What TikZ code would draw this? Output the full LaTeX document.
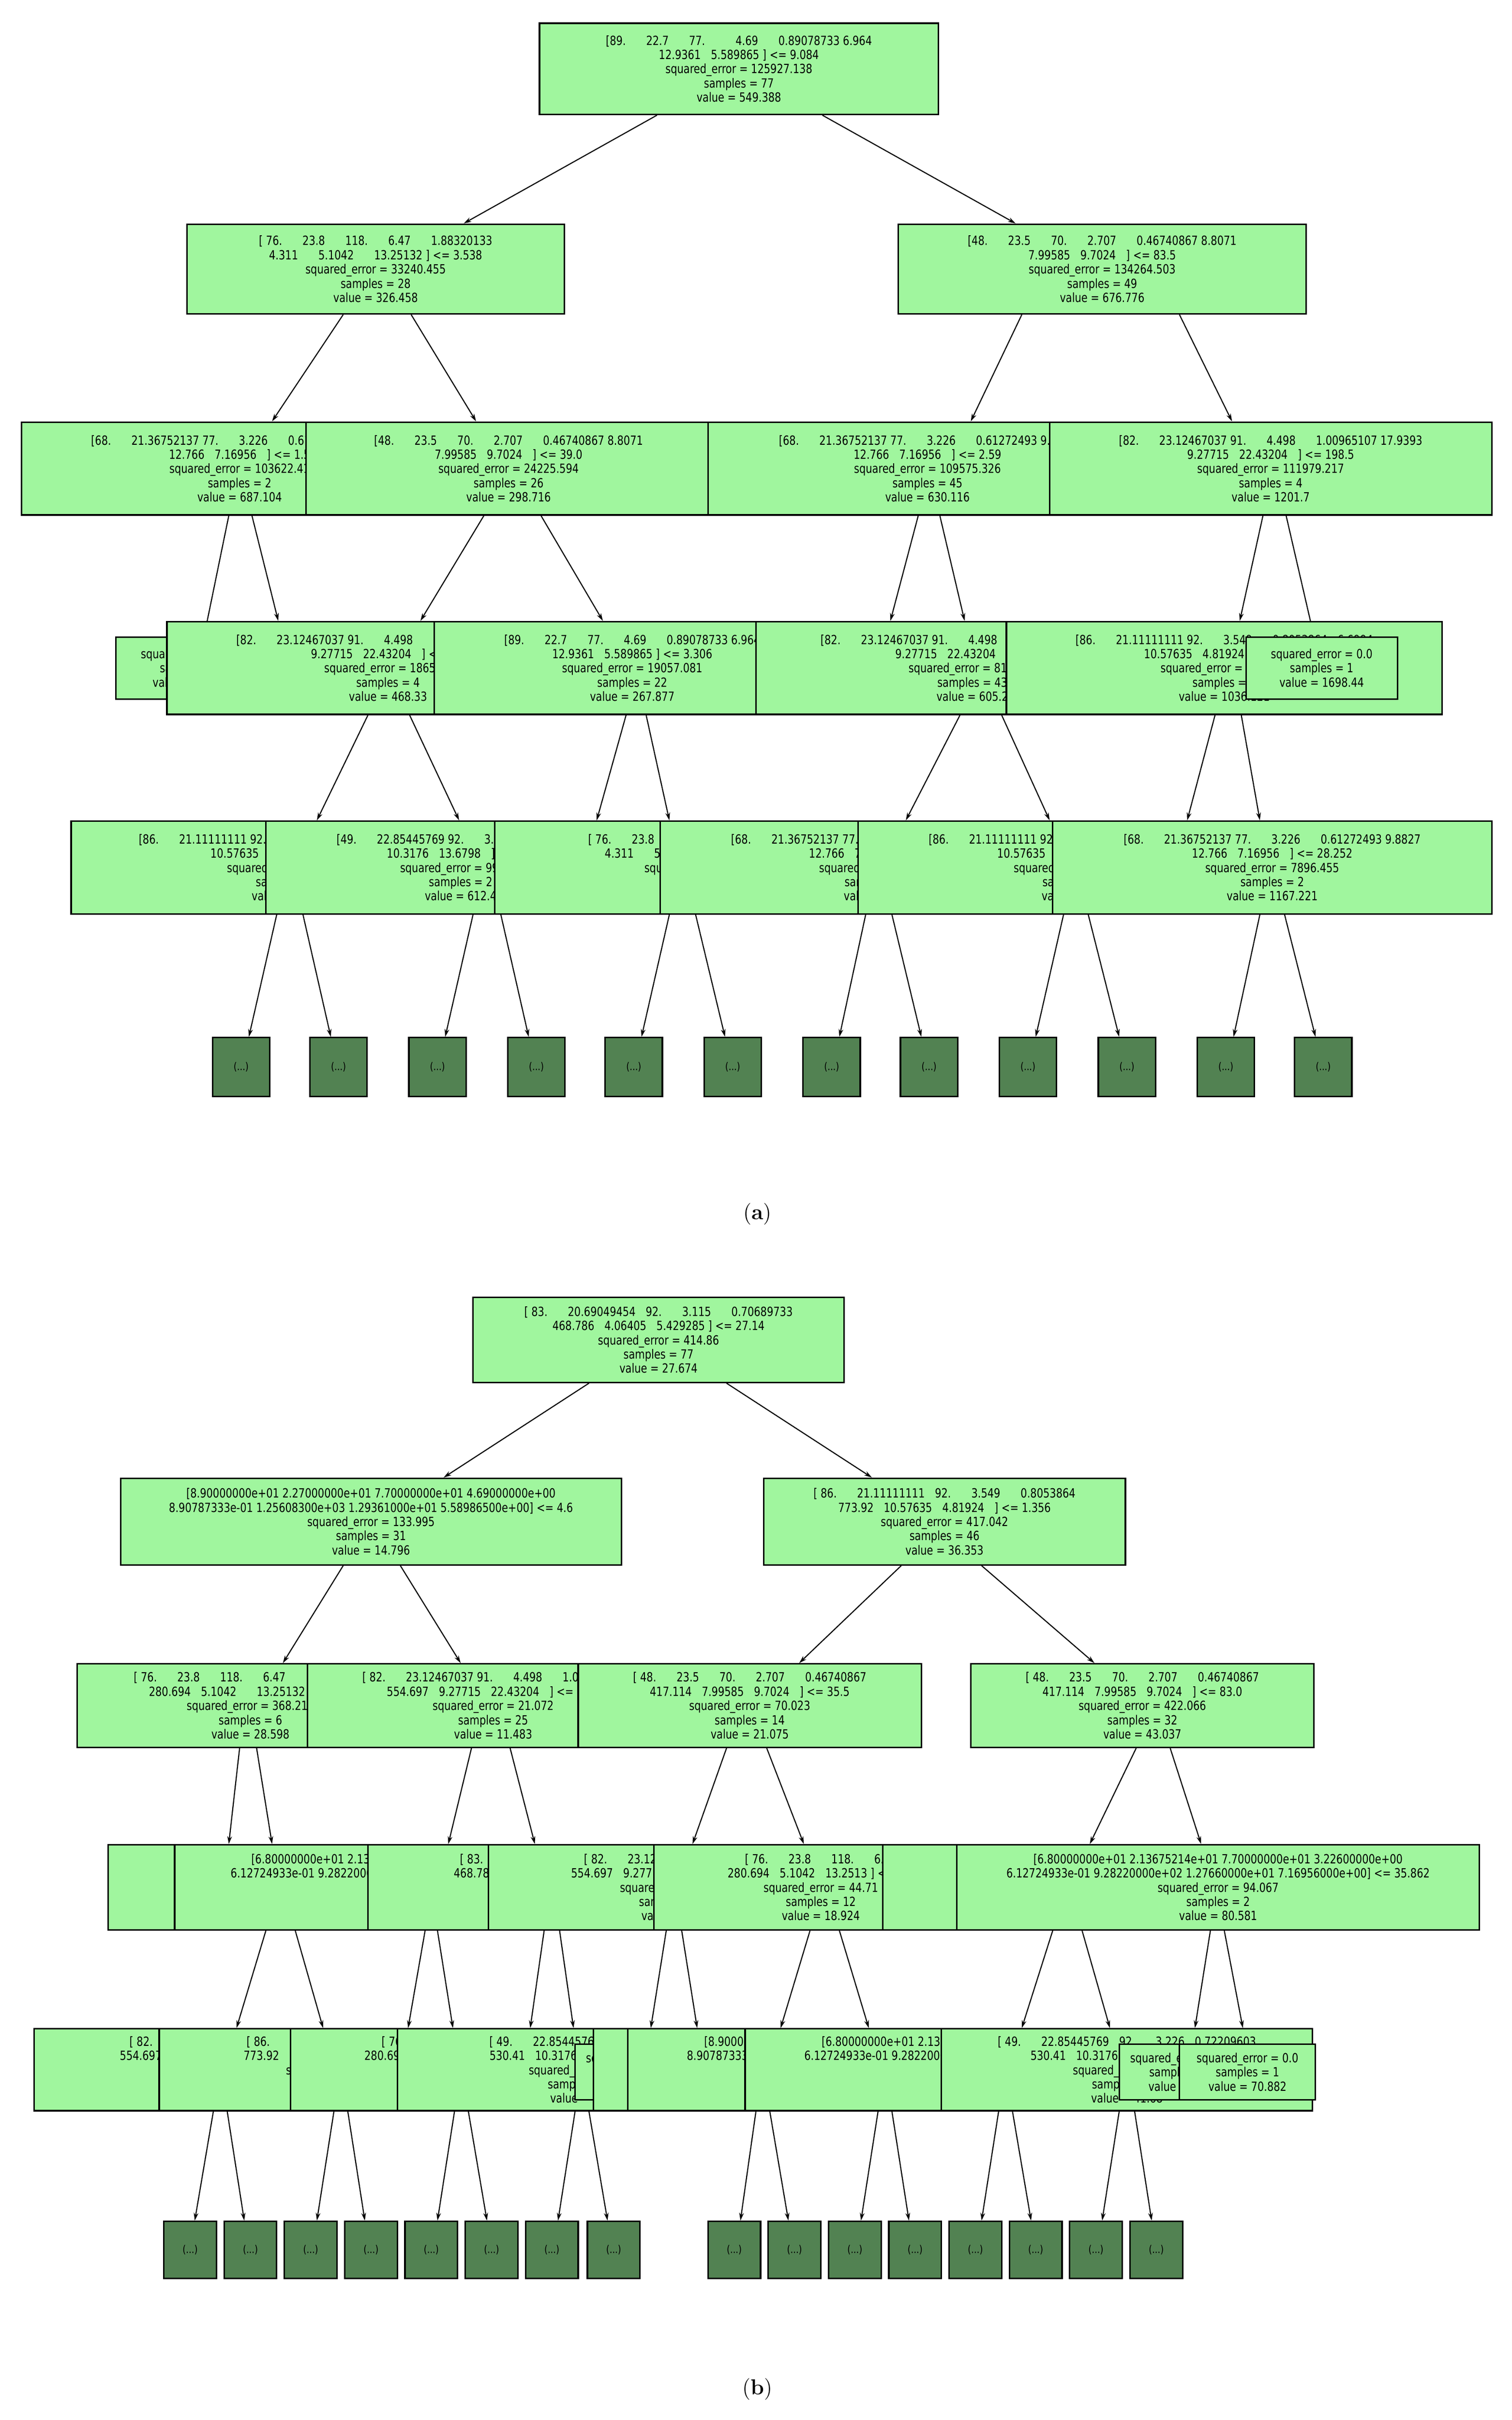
\documentclass[tikz,border=0pt]{standalone}
\usepackage{fontspec}
\newfontfamily\treefont{DejaVu Sans}[FakeStretch=0.8]
\usetikzlibrary{arrows.meta}
\pgfdeclarelayer{background}
\pgfsetlayers{background,main}
\definecolor{splitgreen}{RGB}{160,246,158}
\definecolor{leafgreen}{RGB}{82,130,82}
\tikzstyle{split} = [rectangle, draw=black, line width=1pt, fill=splitgreen, inner sep=0pt, align=center, font=\treefont\fontsize{8.2}{9.2}\selectfont]
\tikzstyle{cut} = [rectangle, draw=black, line width=1pt, fill=leafgreen, inner sep=0pt, minimum width=37pt, minimum height=38pt, font=\treefont\fontsize{7}{8}\selectfont]
\tikzstyle{edge} = [line width=0.7pt, -{Stealth[length=5pt,width=3pt]}]
\newcommand{\gp}{\hspace{0.8em}}
\newcommand{\tbox}[6]{\node[split, minimum width={2*(#3-#2)*1pt}, minimum height={(#5-#4)*1pt}] (#1) at ({#3},{(#4+#5)/2}) {#6};}
\newcommand{\edge}[4]{\draw[edge] (#1.south -| #2,0) -- (#3.north -| #4,0);}

\begin{document}
\begin{tikzpicture}[x=1pt,y=-1pt]
\useasboundingbox (0,0) rectangle (978,1565);

% (a) nodes
\tbox{aR}{349}{478}{15}{74}{[89.\gp\gp 22.7\gp\gp 77.\gp\gp\gp 4.69\gp\gp 0.89078733 6.964\\12.9361\gp 5.589865 ] <= 9.084\\squared\_error = 125927.138\\samples = 77\\value = 549.388}
\tbox{aL}{121}{243}{145}{203}{[ 76.\gp\gp 23.8\gp\gp 118.\gp\gp 6.47\gp\gp 1.88320133\\4.311\gp\gp 5.1042\gp\gp 13.25132 ] <= 3.538\\squared\_error = 33240.455\\samples = 28\\value = 326.458}
\tbox{aRr}{581}{713}{145}{203}{[48.\gp\gp 23.5\gp\gp 70.\gp\gp 2.707\gp\gp 0.46740867 8.8071\\7.99585\gp 9.7024\gp ] <= 83.5\\squared\_error = 134264.503\\samples = 49\\value = 676.776}
\tbox{a3A}{14}{155}{273}{333}{[68.\gp\gp 21.36752137 77.\gp\gp 3.226\gp\gp 0.61272493 9.8827\\12.766\gp 7.16956\gp ] <= 1.5\\squared\_error = 103622.41\\samples = 2\\value = 687.104}
\tbox{a3B}{198}{329}{273}{333}{[48.\gp\gp 23.5\gp\gp 70.\gp\gp 2.707\gp\gp 0.46740867 8.8071\\7.99585\gp 9.7024\gp ] <= 39.0\\squared\_error = 24225.594\\samples = 26\\value = 298.716}
\tbox{a3C}{458}{600}{273}{333}{[68.\gp\gp 21.36752137 77.\gp\gp 3.226\gp\gp 0.61272493 9.8827\\12.766\gp 7.16956\gp ] <= 2.59\\squared\_error = 109575.326\\samples = 45\\value = 630.116}
\tbox{a3D}{679}{822}{273}{333}{[82.\gp\gp 23.12467037 91.\gp\gp 4.498\gp\gp 1.00965107 17.9393\\9.27715\gp 22.43204\gp ] <= 198.5\\squared\_error = 111979.217\\samples = 4\\value = 1201.7}
\tbox{a4s}{75}{124}{412}{452}{squared\_error = 0.0\\samples = 1\\value = 1203.9}
\tbox{a4b}{108}{251}{402}{462}{[82.\gp\gp 23.12467037 91.\gp\gp 4.498\gp\gp 1.00965107 17.9393\\9.27715\gp 22.43204\gp ] <= 6.5\\squared\_error = 18650.2\\samples = 4\\value = 468.33}
\tbox{a4c}{281}{409}{402}{462}{[89.\gp\gp 22.7\gp\gp 77.\gp\gp 4.69\gp\gp 0.89078733 6.964\\12.9361\gp 5.589865 ] <= 3.306\\squared\_error = 19057.081\\samples = 22\\value = 267.877}
\tbox{a4d}{489}{629}{402}{462}{[82.\gp\gp 23.12467037 91.\gp\gp 4.498\gp\gp 1.00965107 17.9393\\9.27715\gp 22.43204\gp ] <= 8.5\\squared\_error = 81234.5\\samples = 43\\value = 605.2}
\tbox{a4e}{651}{792}{402}{462}{[86.\gp\gp 21.11111111 92.\gp\gp 3.549\gp\gp 0.8053864\gp 6.6994\\10.57635\gp 4.81924\gp ] <= 45.0\\squared\_error = 41250.3\\samples = 3\\value = 1036.121}
\tbox{a4f}{806}{855}{412}{452}{squared\_error = 0.0\\samples = 1\\value = 1698.44}
\tbox{a5a}{46}{186}{531}{591}{[86.\gp\gp 21.11111111 92.\gp\gp 3.549\gp\gp 0.8053864\gp 6.6994\\10.57635\gp 4.81924\gp ] <= 2.2\\squared\_error = 5120.8\\samples = 2\\value = 540.3}
\tbox{a5b}{172}{298}{531}{591}{[49.\gp\gp 22.85445769 92.\gp\gp 3.116\gp 0.72209603\\10.3176\gp 13.6798\gp ] <= 5.1\\squared\_error = 9932.4\\samples = 2\\value = 612.4}
\tbox{a5c}{320}{456}{531}{591}{[ 76.\gp\gp 23.8\gp\gp 118.\gp\gp 6.47\gp\gp 1.88320133\\4.311\gp\gp 5.1042\gp\gp 13.25132 ] <= 1.9\\squared\_error = 8810.6\\samples = 12\\value = 250.4}
\tbox{a5d}{427}{569}{531}{591}{[68.\gp\gp 21.36752137 77.\gp\gp 3.226\gp\gp 0.61272493 9.8827\\12.766\gp 7.16956\gp ] <= 4.4\\squared\_error = 2210.9\\samples = 10\\value = 288.1}
\tbox{a5e}{555}{697}{531}{591}{[86.\gp\gp 21.11111111 92.\gp\gp 3.549\gp\gp 0.8053864\gp 6.6994\\10.57635\gp 4.81924\gp ] <= 12.3\\squared\_error = 70311.2\\samples = 39\\value = 590.6}
\tbox{a5f}{681}{823}{531}{591}{[68.\gp\gp 21.36752137 77.\gp\gp 3.226\gp\gp 0.61272493 9.8827\\12.766\gp 7.16956\gp ] <= 28.252\\squared\_error = 7896.455\\samples = 2\\value = 1167.221}
\foreach \c [count=\i] in {156,219,283,347,410,474,538,601,665,729,793,856}
  \node[cut] (al\i) at (\c,690) {(...)};
\node (capa) at (490,785) {\fontsize{14}{16}\selectfont(\textbf{a})};

% (a) connectors
\begin{pgfonlayer}{background}
\edge{aR}{425}{aL}{300} \edge{aR}{532}{aRr}{657}
\edge{aL}{222}{a3A}{176} \edge{aL}{266}{a3B}{308}
\edge{aRr}{661}{a3C}{628} \edge{aRr}{763}{a3D}{797}
\edge{a3A}{148}{a4s}{132} \edge{a3A}{163}{a4b}{180}
\edge{a3B}{313}{a4b}{272} \edge{a3B}{350}{a4c}{390}
\edge{a3C}{594}{a4d}{576} \edge{a3C}{608}{a4d}{624}
\edge{a3D}{817}{a4e}{802} \edge{a3D}{832}{a4f}{850}
\edge{a4b}{238}{a5b}{205} \edge{a4b}{265}{a5b}{297}
\edge{a4c}{405}{a5c}{386} \edge{a4c}{418}{a5d}{433}
\edge{a4d}{621}{a5e}{586} \edge{a4d}{648}{a5e}{679}
\edge{a4e}{786}{a5f}{768} \edge{a4e}{803}{a5f}{815}
\foreach \s/\x/\t/\y in {a5a/179/al1/161, a5b/196/al2/214, a5b/306/al3/288, a5c/324/al4/342,
  a5d/433/al5/415, a5d/450/al6/469, a5e/560/al7/543, a5e/577/al8/596,
  a5f/688/al9/670, a5f/704/al10/724, a5f/815/al11/798, a5f/831/al12/851}
  \draw[edge] (\s.south -| \x,0) -- (\t.north -| \y,0);
\end{pgfonlayer}

% (b) nodes
\tbox{bR}{306}{426}{839}{894}{[ 83.\gp\gp 20.69049454\gp 92.\gp\gp 3.115\gp\gp 0.70689733\\468.786\gp 4.06405\gp 5.429285 ] <= 27.14\\squared\_error = 414.86\\samples = 77\\value = 27.674}
\tbox{bL}{78}{240}{956}{1012}{[8.90000000e+01 2.27000000e+01 7.70000000e+01 4.69000000e+00\\8.90787333e-01 1.25608300e+03 1.29361000e+01 5.58986500e+00] <= 4.6\\squared\_error = 133.995\\samples = 31\\value = 14.796}
\tbox{bRr}{494}{611}{956}{1012}{[ 86.\gp\gp 21.11111111\gp 92.\gp\gp 3.549\gp\gp 0.8053864\\773.92\gp 10.57635\gp 4.81924\gp ] <= 1.356\\squared\_error = 417.042\\samples = 46\\value = 36.353}
\tbox{b3a}{50}{162}{1076}{1130}{[ 76.\gp\gp 23.8\gp\gp 118.\gp\gp 6.47\gp\gp 1.88320133\\280.694\gp 5.1042\gp\gp 13.25132 ] <= 2.1\\squared\_error = 368.214\\samples = 6\\value = 28.598}
\tbox{b3b}{199}{319}{1076}{1130}{[ 82.\gp\gp 23.12467037 91.\gp\gp 4.498\gp\gp 1.00965107\\554.697\gp 9.27715\gp 22.43204\gp ] <= 20.5\\squared\_error = 21.072\\samples = 25\\value = 11.483}
\tbox{b3c}{374}{485}{1076}{1130}{[ 48.\gp\gp 23.5\gp\gp 70.\gp\gp 2.707\gp\gp 0.46740867\\417.114\gp 7.99585\gp 9.7024\gp ] <= 35.5\\squared\_error = 70.023\\samples = 14\\value = 21.075}
\tbox{b3d}{628}{739}{1076}{1130}{[ 48.\gp\gp 23.5\gp\gp 70.\gp\gp 2.707\gp\gp 0.46740867\\417.114\gp 7.99585\gp 9.7024\gp ] <= 83.0\\squared\_error = 422.066\\samples = 32\\value = 43.037}
\tbox{b4a}{70}{178}{1193}{1248}{[ 76.\gp\gp 23.8\gp\gp 118.\gp\gp 6.47\\280.694\gp 5.1042\gp 13.2513 ] <= 1.2\\squared\_error = 310.9\\samples = 2\\value = 44.1}
\tbox{b4b}{113}{282}{1193}{1248}{[6.80000000e+01 2.13675214e+01 7.70000000e+01 3.22600000e+00\\6.12724933e-01 9.28220000e+02 1.27660000e+01 7.16956000e+00] <= 30.1\\squared\_error = 52.3\\samples = 4\\value = 20.8}
\tbox{b4c}{238}{358}{1193}{1248}{[ 83.\gp\gp 20.69049454\gp 92.\gp\gp 3.115\\468.786\gp 4.06405\gp 5.429285 ] <= 6.2\\squared\_error = 12.4\\samples = 9\\value = 8.7}
\tbox{b4d}{316}{436}{1193}{1248}{[ 82.\gp\gp 23.12467037 91.\gp\gp 4.498\\554.697\gp 9.27715\gp 22.43204 ] <= 11.5\\squared\_error = 15.8\\samples = 16\\value = 13.0}
\tbox{b4e}{423}{531}{1193}{1248}{[ 76.\gp\gp 23.8\gp\gp 118.\gp\gp 6.47\\280.694\gp 5.1042\gp 13.2513 ] <= 2.6\\squared\_error = 44.71\\samples = 12\\value = 18.924}
\tbox{b4f}{571}{691}{1193}{1248}{[ 83.\gp\gp 20.69049454\gp 92.\gp\gp 3.115\\468.786\gp 4.06405\gp 5.429285 ] <= 60.5\\squared\_error = 301.6\\samples = 30\\value = 40.5}
\tbox{b4g}{619}{788}{1193}{1248}{[6.80000000e+01 2.13675214e+01 7.70000000e+01 3.22600000e+00\\6.12724933e-01 9.28220000e+02 1.27660000e+01 7.16956000e+00] <= 35.862\\squared\_error = 94.067\\samples = 2\\value = 80.581}
\tbox{b5a}{22}{142}{1312}{1365}{[ 82.\gp\gp 23.12467037 91.\gp\gp 4.498\\554.697\gp 9.27715\gp 22.43204 ] <= 3.1\\squared\_error = 9.1\\samples = 3\\value = 10.2}
\tbox{b5b}{103}{220}{1312}{1365}{[ 86.\gp\gp 21.11111111\gp 92.\gp\gp 3.549\\773.92\gp 10.57635\gp 4.81924 ] <= 7.4\\squared\_error = 35.6\\samples = 3\\value = 22.4}
\tbox{b5c}{188}{296}{1312}{1365}{[ 76.\gp\gp 23.8\gp\gp 118.\gp\gp 6.47\\280.694\gp 5.1042\gp 13.2513 ] <= 4.9\\squared\_error = 6.3\\samples = 4\\value = 9.1}
\tbox{b5d}{257}{377}{1312}{1365}{[ 49.\gp\gp 22.85445769\gp 92.\gp\gp 3.116\\530.41\gp 10.3176\gp 13.6798 ] <= 9.3\\squared\_error = 11.2\\samples = 10\\value = 12.8}
\tbox{b5e}{372}{412}{1322}{1358}{squared\_error = 0.0\\samples = 1\\value = 30.41}
\tbox{b5f}{384}{492}{1312}{1365}{[ 76.\gp\gp 23.8\gp\gp 118.\gp\gp 6.47\\280.694\gp 5.1042\gp 13.2513 ] <= 1.7\\squared\_error = 20.4\\samples = 5\\value = 15.2}
\tbox{b5g}{406}{575}{1312}{1365}{[8.90000000e+01 2.27000000e+01 7.70000000e+01 4.69000000e+00\\8.90787333e-01 1.25608300e+03 1.29361000e+01 5.58986500e+00] <= 2.2\\squared\_error = 18.3\\samples = 4\\value = 16.4}
\tbox{b5h}{482}{651}{1312}{1365}{[6.80000000e+01 2.13675214e+01 7.70000000e+01 3.22600000e+00\\6.12724933e-01 9.28220000e+02 1.27660000e+01 7.16956000e+00] <= 8.8\\squared\_error = 22.9\\samples = 8\\value = 21.7}
\tbox{b5i}{609}{729}{1312}{1365}{[ 49.\gp\gp 22.85445769\gp 92.\gp\gp 3.226\gp 0.72209603\\530.41\gp 10.3176\gp 13.6798 ] <= 12.0\\squared\_error = 60.2\\samples = 28\\value = 41.68}
\tbox{b5j}{724}{764}{1322}{1358}{squared\_error = 0.0\\samples = 1\\value = 78.3}
\tbox{b5k}{763}{807}{1322}{1358}{squared\_error = 0.0\\samples = 1\\value = 70.882}
\foreach \c [count=\i] in {123,162,201,240,279,318,357,397,475,514,553,592,631,670,709,748}
  \node[cut, minimum width=34pt, minimum height=37pt] (bl\i) at (\c,1455) {(...)};
\node (capb) at (490,1545) {\fontsize{14}{16}\selectfont(\textbf{b})};

% (b) connectors
\begin{pgfonlayer}{background}
\edge{bR}{381}{bL}{287} \edge{bR}{470}{bRr}{564}
\edge{bL}{222}{b3a}{183} \edge{bL}{259}{b3b}{298}
\edge{bRr}{583}{b3c}{517} \edge{bRr}{635}{b3d}{708}
\edge{b3a}{155}{b4a}{148} \edge{b3a}{166}{b4b}{176}
\edge{b3b}{305}{b4c}{290} \edge{b3b}{330}{b4d}{346}
\edge{b3c}{470}{b4e}{448} \edge{b3c}{496}{b4e}{520}
\edge{b3d}{735}{b4g}{705} \edge{b3d}{757}{b4g}{777}
\foreach \s/\x/\t/\y in {b4b/172/b5a/153, b4b/191/b5b/209, b4c/275/b5c/264, b4c/283/b5d/293,
  b4d/352/b5d/343, b4d/362/b5d/371, b4e/431/b5f/421, b4e/441/b5f/451,
  b4e/524/b5g/505, b4e/543/b5g/562, b4g/681/b5i/661, b4g/700/b5i/718, b4g/783/b5i/773, b4g/792/b5i/804}
  \draw[edge] (\s.south -| \x,0) -- (\t.north -| \y,0);
\foreach \s/\x/\t/\y in {b5a/138/bl1/126, b5b/147/bl2/158, b5b/216/bl3/205, b5b/225/bl4/236,
  b5c/294/bl5/283, b5c/303/bl6/315, b5d/372/bl7/361, b5d/381/bl8/393,
  b5g/489/bl9/479, b5g/498/bl10/510, b5h/568/bl11/557, b5h/577/bl12/588,
  b5i/646/bl13/635, b5i/655/bl14/667, b5i/724/bl15/713, b5i/734/bl16/745}
  \draw[edge] (\s.south -| \x,0) -- (\t.north -| \y,0);
\end{pgfonlayer}
\end{tikzpicture}
\end{document}
